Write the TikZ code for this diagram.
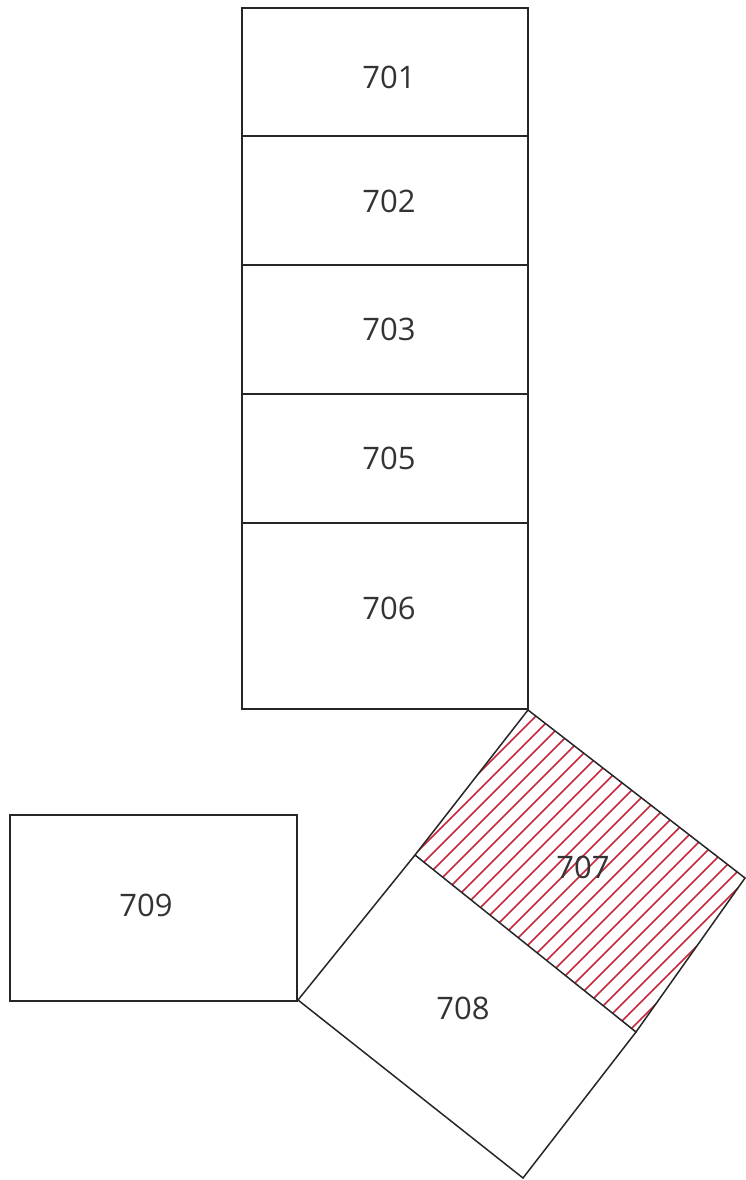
\documentclass[tikz,border=0pt]{standalone}
\usepackage{fontspec}
\setmainfont{Open Sans}
\begin{document}
\begin{tikzpicture}[x=1pt,y=-1pt,
  box/.style={draw=black!85,line width=1.5pt,line join=miter},
  lbl/.style={font=\fontsize{31}{35}\selectfont,text=black!80,inner sep=0pt},
  hatch/.style={draw={rgb,255:red,200;green,40;blue,60},line width=1.6pt}]
\useasboundingbox (0,0) rectangle (745,1180);
% column of boxes
\draw[box] (242,8) rectangle (528,136);
\draw[box] (242,136) rectangle (528,265);
\draw[box] (242,265) rectangle (528,394);
\draw[box] (242,394) rectangle (528,523);
\draw[box] (242,523) rectangle (528,709);
% rotated boxes
\coordinate (p1) at (528,710);
\coordinate (p2) at (745,878);
\coordinate (p3) at (636,1032);
\coordinate (p4) at (415,855);
\coordinate (p5) at (523,1178);
\coordinate (p6) at (298,1000);
\begin{scope}
  \clip (p1) -- (p2) -- (p3) -- (p4) -- cycle;
  \foreach \c in {1252,1269,...,1680}{
    \draw[hatch] (\c-1100,1100) -- (\c-650,650);
  }
\end{scope}
\draw[box] (p1) -- (p2) -- (p3) -- (p4) -- cycle;
\draw[box] (p4) -- (p6) -- (p5) -- (p3);
% box 709
\draw[box] (10,815) rectangle (297,1001);
% labels
\node[lbl] (n701) at (389,77) {701};
\node[lbl] (n702) at (389,201) {702};
\node[lbl] (n703) at (389,329) {703};
\node[lbl] (n705) at (389,458) {705};
\node[lbl] (n706) at (389,608) {706};
\node[lbl] (n707) at (583,867) {707};
\node[lbl] (n708) at (463,1008) {708};
\node[lbl] (n709) at (146,905) {709};
\end{tikzpicture}
\end{document}
